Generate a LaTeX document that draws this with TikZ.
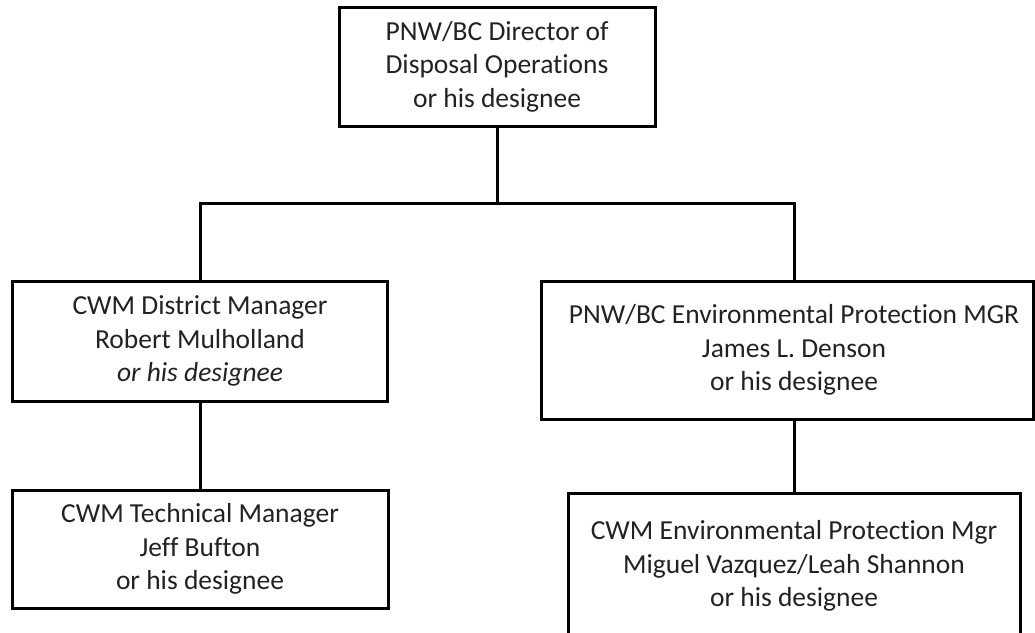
\documentclass[tikz,border=0pt]{standalone}
\usepackage{fontspec}
\setmainfont{Carlito}[Ligatures=NoCommon]
\usetikzlibrary{positioning}
\definecolor{inkgray}{RGB}{34, 34, 34}

\begin{document}
\begin{tikzpicture}[x=1pt, y=-1pt]
    \tikzstyle{orgbox} = [rectangle, draw=black, line width=3pt, fill=white,
                          inner sep=0pt, align=center, text=inkgray,
                          font=\fontsize{27.5}{33.5}\selectfont]
    \tikzstyle{link} = [line width=3pt, line join=miter, color=black]

    \useasboundingbox (0,0) rectangle (1035,632);
    \clip (0,0) rectangle (1035,632);

    \node[orgbox, minimum width=316pt, minimum height=119pt] (dir) at (497,66.5)
        {PNW/BC Director of\\Disposal Operations\\or his designee};
    \node[orgbox, minimum width=375pt, minimum height=120pt] (dist) at (200,341)
        {CWM District Manager\\Robert Mulholland\\\textit{or his designee}};
    \node[orgbox, minimum width=492pt, minimum height=138pt] (envmgr) at (787,350)
        {\hspace*{14pt}PNW/BC Environmental Protection MGR\\\hspace*{14pt}James L. Denson\\\hspace*{14pt}or his designee};
    \node[orgbox, minimum width=376pt, minimum height=118pt, below=86pt of dist.south, anchor=north] (tech)
        {CWM Technical Manager\\Jeff Bufton\\or his designee};
    \node[orgbox, minimum width=452pt, minimum height=146pt] (envlocal) at (794,566)
        {CWM Environmental Protection Mgr\\Miguel Vazquez/Leah Shannon\\or his designee};

    \coordinate (busL) at (dist.north |- 0,203);
    \coordinate (busR) at (envlocal.north |- 0,203);

    \draw[link] (dir.south) -- (dir.south |- busL);
    \draw[link] (dist.north) -- (busL) -- (busR) -- (busR |- envmgr.north);
    \draw[link] (dist.south) -- (tech.north);
    \draw[link] (envmgr.south -| envlocal.north) -- (envlocal.north);
\end{tikzpicture}
\end{document}
